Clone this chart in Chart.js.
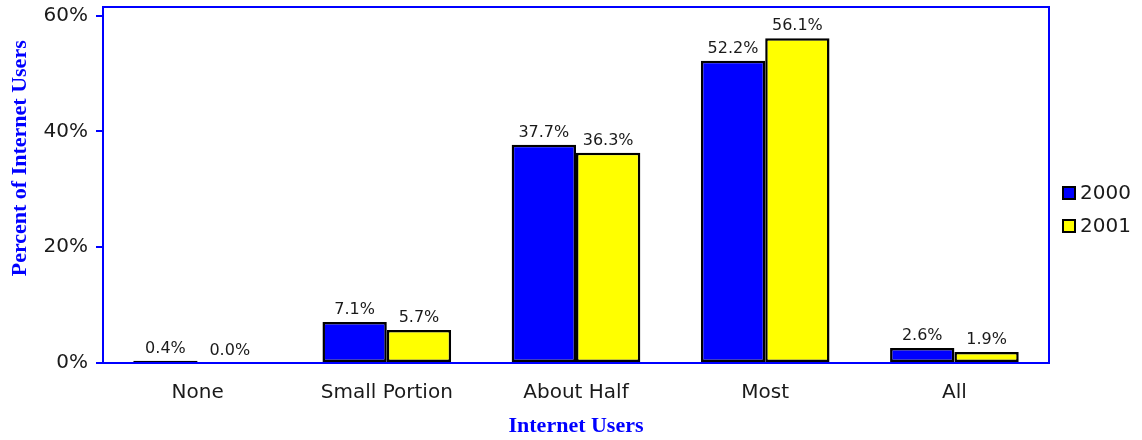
<!DOCTYPE html>
<html>
<head>
<meta charset="utf-8">
<script src="https://cdn.jsdelivr.net/npm/chart.js@4/dist/chart.umd.min.js"></script>
<style>
    html, body { margin: 0; padding: 0; background: #fff; }
    #wrap { width: 1142px; height: 440px; position: relative; }
</style>
</head>
<body>
<div id="wrap"><canvas id="chart"></canvas></div>
<script>
// Chart data
const categories = ['None', 'Small Portion', 'About Half', 'Most', 'All'];
const seriesNames = ['2000', '2001'];
const values2000 = [0.4, 7.1, 37.7, 52.2, 2.6];
const values2001 = [0.0, 5.7, 36.3, 56.1, 1.9];
const seriesColors = ['#0000FF', '#FFFF00'];
const yTicks = [0, 20, 40, 60];
const yMax = 61.5;

const BLUE = '#0000FF';
const TEXT = '#1a1a1a';

/**
 * Blue box around the plot area
 */
const frameBox = {
    id: 'frameBox',
    afterDraw(chart) {
        const {ctx, chartArea: a} = chart;
        ctx.save();
        ctx.strokeStyle = BLUE;
        ctx.lineWidth = 2;
        ctx.strokeRect(a.left, a.top, a.right - a.left, a.bottom - a.top);
        ctx.restore();
    }
};

/**
 * Value labels above every bar
 */
const barLabels = {
    id: 'barLabels',
    afterDatasetsDraw(chart) {
        const {ctx} = chart;
        ctx.save();
        ctx.font = '16px "DejaVu Sans"';
        ctx.fillStyle = TEXT;
        ctx.textAlign = 'center';
        ctx.textBaseline = 'alphabetic';
        chart.data.datasets.forEach((ds, i) => {
            chart.getDatasetMeta(i).data.forEach((bar, j) => {
                ctx.fillText(ds.data[j].toFixed(1) + '%', bar.x, bar.y - 8);
            });
        });
        ctx.restore();
    }
};

/**
 * Y axis title (sits a bit above the plot centre) and the legend on the right
 */
const sideTexts = {
    id: 'sideTexts',
    afterDraw(chart) {
        const {ctx, chartArea: a} = chart;
        ctx.save();

        // Y title
        ctx.font = 'bold 22px "Liberation Serif"';
        ctx.fillStyle = BLUE;
        ctx.textAlign = 'center';
        ctx.textBaseline = 'middle';
        ctx.translate(20, a.top + (a.bottom - a.top) * 0.425);
        ctx.rotate(-Math.PI / 2);
        ctx.fillText('Percent of Internet Users', 0, 0);
        ctx.setTransform(1, 0, 0, 1, 0, 0);

        // Legend
        ctx.font = '20px "DejaVu Sans"';
        ctx.textAlign = 'left';
        chart.data.datasets.forEach((ds, i) => {
            const y = 193 + i * 33;
            const x = a.right + 14;
            ctx.fillStyle = ds.backgroundColor;
            ctx.fillRect(x, y - 6, 12, 12);
            ctx.strokeStyle = '#000';
            ctx.lineWidth = 2;
            ctx.strokeRect(x, y - 6, 12, 12);
            ctx.fillStyle = TEXT;
            ctx.fillText(ds.label, x + 17, y + 1);
        });
        ctx.restore();
    }
};

const ctx = document.getElementById('chart').getContext('2d');

new Chart(ctx, {
    type: 'bar',
    data: {
        labels: categories,
        datasets: [values2000, values2001].map((vals, i) => ({
            label: seriesNames[i],
            data: vals,
            backgroundColor: seriesColors[i],
            borderColor: '#000',
            borderWidth: 2.5,
            borderSkipped: false,
            categoryPercentage: 0.68,
            barPercentage: 1
        }))
    },
    options: {
        responsive: true,
        maintainAspectRatio: false,
        animation: false,
        layout: {
            padding: { top: 7, right: 93, left: 0, bottom: 0 }
        },
        plugins: {
            legend: { display: false },
            tooltip: { enabled: false }
        },
        scales: {
            x: {
                grid: { display: false, drawTicks: false },
                border: { color: BLUE, width: 2 },
                ticks: {
                    color: TEXT,
                    padding: 18,
                    font: { family: 'DejaVu Sans', size: 20 }
                },
                title: {
                    display: true,
                    text: 'Internet Users',
                    color: BLUE,
                    padding: { top: 0, bottom: 0 },
                    font: { family: 'Liberation Serif', size: 22, weight: 'bold' }
                },
                afterFit(scale) {
                    scale.height = 77;
                    scale.paddingLeft = 0;
                    scale.paddingRight = 0;
                }
            },
            y: {
                min: 0,
                max: yMax,
                grid: {
                    drawOnChartArea: false,
                    drawTicks: true,
                    tickLength: 7,
                    color: BLUE,
                    lineWidth: 2
                },
                border: { color: BLUE, width: 2 },
                ticks: {
                    color: TEXT,
                    padding: 8,
                    font: { family: 'DejaVu Sans', size: 20 },
                    callback: v => v + '%'
                },
                afterBuildTicks(scale) {
                    scale.ticks = yTicks.map(v => ({ value: v }));
                },
                afterFit(scale) {
                    scale.width = 103;
                    scale.paddingTop = 0;
                    scale.paddingBottom = 0;
                }
            }
        }
    },
    plugins: [frameBox, barLabels, sideTexts]
});
</script>
</body>
</html>
